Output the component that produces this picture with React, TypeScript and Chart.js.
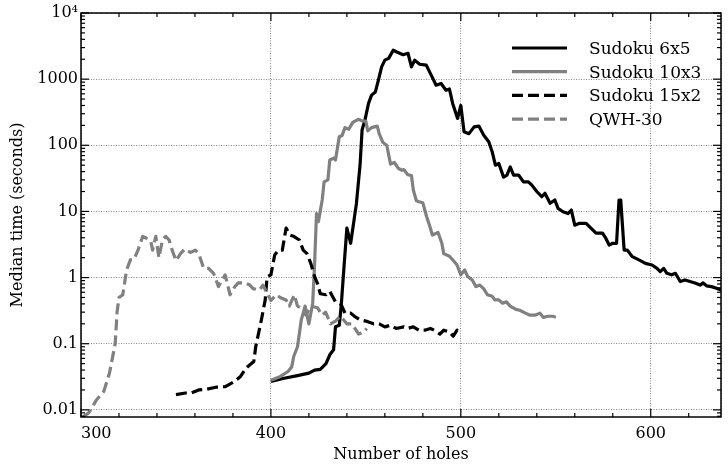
import { useEffect, useRef } from 'react';
import { Chart, registerables } from 'chart.js';

Chart.register(...registerables);

const FONT = '"DejaVu Serif", serif';

const seriesLabels = ['Sudoku 6x5', 'Sudoku 10x3', 'Sudoku 15x2', 'QWH-30'];

const sudoku6x5: [number, number][] = [
  [400, 0.027], [407, 0.03], [414, 0.033], [420, 0.036], [423, 0.04], [426, 0.041], [429, 0.05],
  [431, 0.068], [433, 0.081], [434, 0.18], [436, 0.19], [437, 0.37], [438.5, 1.46], [440, 5.6],
  [442, 3.3], [445, 13], [447, 53], [448, 170], [449.6, 247], [451.4, 430], [453, 573], [455, 640],
  [456.6, 965], [458.3, 1530], [460, 1940], [462, 2060], [464.4, 2740], [466, 2600], [469.6, 2340],
  [472.2, 2460], [474, 1530], [475.7, 1940], [478.3, 1680], [481.8, 1630], [484.4, 1150], [487, 810],
  [489.6, 860], [492.2, 680], [494, 710], [495.7, 430], [498.3, 255], [500, 400], [501.7, 160],
  [504.3, 150], [507, 190], [509.5, 195], [512, 143], [514.7, 113], [516.5, 80], [518.2, 50],
  [520, 53], [522.5, 33], [524.3, 35.5], [526, 47], [527.8, 35.5], [530.4, 35.5], [533, 28],
  [535.6, 28], [537.4, 25], [540, 20], [542.6, 16.7], [544.3, 18.8], [547, 13.3], [549.5, 14.9],
  [551.2, 11.1], [553.8, 9.9], [556.4, 9.3], [558.2, 10.5], [560, 6.2], [562.5, 6.6], [566, 6.6],
  [568.5, 5.6], [571.2, 4.7], [574.6, 4.7], [576.4, 3.9], [578.1, 3.1], [580, 3.3], [582, 3.3],
  [583.3, 14.9], [584.2, 14.9], [586, 2.6], [587.7, 2.6], [590.3, 2.07], [593.8, 1.85], [597.2, 1.64],
  [600.7, 1.55], [603.3, 1.38], [605, 1.23], [606.8, 1.38], [608.5, 1.16], [611, 1.1], [613, 1.16],
  [615.5, 0.87], [618, 0.92], [620.7, 0.87], [623.3, 0.83], [626, 0.77], [627.6, 0.83], [629.4, 0.75],
  [632, 0.73], [634.6, 0.69], [637, 0.65],
];

const sudoku10x3: [number, number][] = [
  [400, 0.028], [405, 0.032], [409, 0.038], [411, 0.045], [412, 0.064], [414, 0.09], [416, 0.23],
  [417, 0.29], [418, 0.37], [420, 0.2], [422, 0.41], [423, 1.6], [424, 9.3], [425, 7], [427, 14.9],
  [428, 28], [430, 30], [431, 60], [433, 64], [434, 60], [436, 135], [437.5, 141], [439, 185],
  [441, 175], [443, 220], [444, 230], [446, 247], [448, 235], [450, 230], [451, 165], [453, 185],
  [456, 195], [457, 150], [459, 110], [461, 100], [463, 52], [465, 55], [467, 45], [469, 42],
  [470, 43], [472, 36], [474, 35], [475, 21], [476.6, 14.5], [478, 14], [480, 13.5], [482, 8.3],
  [483.5, 6.2], [485, 4.4], [488, 4.8], [490, 3.3], [491, 2.3], [494, 2.1], [496.5, 1.75],
  [498, 1.55], [500, 1.1], [502, 1.3], [503.5, 1.05], [506, 0.92], [508, 0.73], [510, 0.77],
  [512, 0.68], [514, 0.55], [516.5, 0.52], [518, 0.46], [520, 0.46], [522, 0.41], [524, 0.43],
  [526, 0.37], [529, 0.33], [531, 0.32], [534, 0.29], [536.5, 0.27], [539, 0.27], [541.7, 0.29],
  [543.4, 0.25], [546, 0.26], [548.6, 0.26], [550, 0.25],
];

const sudoku15x2: [number, number][] = [
  [350, 0.017], [355, 0.018], [358, 0.018], [362, 0.02], [366, 0.0205], [371, 0.022], [376, 0.0225],
  [381, 0.027], [384, 0.032], [387, 0.043], [391, 0.054], [392, 0.09], [395, 0.23], [397, 0.46],
  [398, 1.03], [400, 1.1], [402, 2.2], [404, 2.6], [406, 2.6], [408, 5.6], [410, 4.4], [412, 4.2],
  [415, 3.7], [417, 2.6], [419, 2.3], [421, 1.64], [423, 1.03], [424.5, 0.82], [426, 0.57],
  [429, 0.55], [431, 0.62], [434, 0.43], [437, 0.39], [439, 0.29], [442, 0.29], [444, 0.26],
  [447, 0.23], [450, 0.22], [454, 0.2], [457, 0.2], [460, 0.18], [463, 0.19], [466, 0.17],
  [470, 0.18], [472, 0.17], [475, 0.18], [478, 0.16], [481, 0.16], [484, 0.17], [486, 0.16],
  [489, 0.14], [491, 0.16], [494, 0.15], [496, 0.13], [498, 0.16], [500, 0.14],
];

const qwh30: [number, number][] = [
  [301, 0.0078], [304, 0.009], [306, 0.011], [308, 0.014], [312, 0.019], [315, 0.036], [318, 0.1],
  [319, 0.3], [320, 0.5], [322, 0.55], [324, 1.3], [326, 1.85], [328, 1.9], [330, 2.6], [332.5, 4.2],
  [334, 4.0], [336.8, 3.5], [337.7, 2.6], [339.4, 4.2], [341, 2.0], [342.9, 3.7], [344.6, 4.2],
  [346.4, 3.7], [348, 2.6], [350, 1.8], [352.4, 2.3], [354.7, 2.7], [357.6, 2.4], [360.2, 2.6],
  [362, 2.3], [364.6, 1.38], [367.2, 1.38], [369.8, 1.16], [372.4, 0.73], [374.1, 0.9], [375.9, 1.1],
  [378.5, 0.55], [381, 0.73], [382.8, 0.83], [386.3, 0.83], [388.9, 0.77], [390.6, 0.68], [394, 0.65],
  [395.8, 0.77], [398.4, 0.55], [400, 0.45], [402.8, 0.55], [405.4, 0.49], [408, 0.46], [409.7, 0.37],
  [412.3, 0.55], [414, 0.37], [415.8, 0.35], [418.4, 0.27], [421, 0.37], [424.5, 0.35], [427, 0.27],
  [428.8, 0.3], [431.4, 0.2], [434, 0.22], [436.6, 0.26], [440, 0.2], [442.7, 0.2], [446.2, 0.14],
  [448.8, 0.15], [450.5, 0.17],
];

const xMin = 300;
const xMax = 637;
const xMajorTicks = [300, 400, 500, 600];
const xMinorStep = 20;
const yMin = 0.0078;
const yMax = 10000;
const yMajorTicks = [0.01, 0.1, 1, 10, 100, 1000, 10000];
const yTickLabels = ['0.01', '0.1', '1', '10', '100', '1000', '10\u2074'];

const BLACK = '#000000';
const GREY = '#808080';
const DASH = [11, 5];
const LINE_W = 3.2;

const framePlugin = {
  id: 'frameTicks',
  afterDatasetsDraw(chart: any) {
    const { ctx, chartArea: a, scales } = chart;
    const xs = scales.x;
    const ys = scales.y;
    ctx.save();
    ctx.strokeStyle = '#000';
    ctx.lineWidth = 1.2;
    const seg = (x1: number, y1: number, x2: number, y2: number) => {
      ctx.beginPath();
      ctx.moveTo(x1, y1);
      ctx.lineTo(x2, y2);
      ctx.stroke();
    };
    for (let v = xMin; v <= xMax; v += xMinorStep) {
      const px = xs.getPixelForValue(v);
      const len = xMajorTicks.includes(v) ? 8 : 4;
      seg(px, a.bottom, px, a.bottom - len);
      seg(px, a.top, px, a.top + len);
    }
    for (let e = -3; e <= 4; e++) {
      for (let k = 1; k <= 9; k++) {
        const v = k * Math.pow(10, e);
        if (v < yMin || v > yMax * 1.0001) continue;
        const py = ys.getPixelForValue(v);
        const len = k === 1 ? 8 : 4;
        seg(a.left, py, a.left + len, py);
        seg(a.right, py, a.right - len, py);
      }
    }
    ctx.lineWidth = 1.5;
    ctx.strokeRect(a.left, a.top, a.right - a.left, a.bottom - a.top);
    ctx.restore();
  },
  afterDraw(chart: any) {
    const { ctx, chartArea: a } = chart;
    ctx.save();
    ctx.font = `17px ${FONT}`;
    ctx.textBaseline = 'alphabetic';
    ctx.textAlign = 'left';
    chart.data.datasets.forEach((ds: any, i: number) => {
      const y = a.top + 35 + i * 23.7;
      ctx.strokeStyle = ds.borderColor;
      ctx.lineWidth = LINE_W;
      ctx.setLineDash(ds.borderDash || []);
      ctx.beginPath();
      ctx.moveTo(a.right - 209, y);
      ctx.lineTo(a.right - 154, y);
      ctx.stroke();
      ctx.setLineDash([]);
      ctx.fillStyle = '#000';
      ctx.fillText(ds.label, a.right - 132, y + 6);
    });
    ctx.restore();
  },
};

export default function App() {
  const ref = useRef<HTMLCanvasElement | null>(null);
  useEffect(() => {
    if (!ref.current) return;
    const mk = (label: string, pts: [number, number][], color: string, dash: number[], order: number) => ({
      label,
      data: pts.map(([x, y]) => ({ x, y })),
      borderColor: color,
      backgroundColor: color,
      borderWidth: LINE_W,
      borderDash: dash,
      borderJoinStyle: 'round' as const,
      borderCapStyle: 'butt' as const,
      pointRadius: 0,
      fill: false,
      tension: 0,
      order,
    });
    const chart = new Chart(ref.current, {
      type: 'line',
      data: {
        datasets: [
          mk(seriesLabels[0], sudoku6x5, BLACK, [], 4),
          mk(seriesLabels[1], sudoku10x3, GREY, [], 3),
          mk(seriesLabels[2], sudoku15x2, BLACK, DASH, 2),
          mk(seriesLabels[3], qwh30, GREY, DASH, 1),
        ],
      },
      options: {
        animation: false,
        responsive: false,
        maintainAspectRatio: false,
        parsing: false as any,
        normalized: true,
        layout: { padding: { top: 13, right: 1, left: 0, bottom: 0 } },
        plugins: { legend: { display: false }, tooltip: { enabled: false } },
        scales: {
          x: {
            type: 'linear',
            min: xMin,
            max: xMax,
            afterBuildTicks: (s: any) => {
              s.ticks = [...xMajorTicks, xMax].map((v) => ({ value: v }));
            },
            afterFit: (s: any) => {
              s.height = 47;
            },
            ticks: {
              align: 'inner',
              autoSkip: false,
              maxRotation: 0,
              padding: 7,
              color: '#000',
              font: { family: FONT, size: 16 },
              callback: (v: any) => (xMajorTicks.includes(Number(v)) ? String(v) : ''),
            },
            grid: { color: '#8a8a8a', lineWidth: 1, drawTicks: false },
            border: { display: false, dash: [1, 1.5] },
            title: {
              display: true,
              text: 'Number of holes',
              color: '#000',
              font: { family: FONT, size: 16 },
              padding: { top: 0, bottom: 0 },
            },
          },
          y: {
            type: 'logarithmic',
            min: yMin,
            max: yMax,
            afterBuildTicks: (s: any) => {
              s.ticks = yMajorTicks.map((v) => ({ value: v }));
            },
            afterFit: (s: any) => {
              s.width = 81;
            },
            ticks: {
              autoSkip: false,
              padding: 3,
              color: '#000',
              font: { family: FONT, size: 16 },
              callback: (v: any) => {
                const idx = yMajorTicks.findIndex((t) => Math.abs(Math.log10(t) - Math.log10(Number(v))) < 1e-6);
                return idx >= 0 ? yTickLabels[idx] : '';
              },
            },
            grid: { color: '#8a8a8a', lineWidth: 1, drawTicks: false },
            border: { display: false, dash: [1, 1.5] },
            title: {
              display: true,
              text: 'Median time (seconds)',
              color: '#000',
              font: { family: FONT, size: 16 },
              padding: { top: 8, bottom: 0 },
            },
          },
        },
      },
      plugins: [framePlugin],
    });
    return () => chart.destroy();
  }, []);
  return (
    <div style={{ position: 'absolute', left: 0, top: 0, width: 728, height: 464, background: '#fff' }}>
      <canvas ref={ref} width={728} height={464} style={{ display: 'block' }} />
    </div>
  );
}
